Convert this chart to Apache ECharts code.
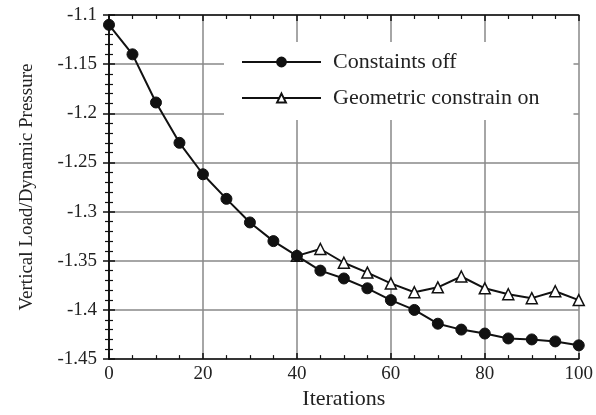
<!DOCTYPE html>
<html>
<head>
<meta charset="utf-8">
<script src="https://cdn.jsdelivr.net/npm/echarts@6/dist/echarts.min.js"></script>
<style>
html,body{margin:0;padding:0;background:#fff;}
#chart{width:596px;height:415px;}
</style>
</head>
<body>
<div id="chart"></div>
<script>
const iterations = [0,5,10,15,20,25,30,35,40,45,50,55,60,65,70,75,80,85,90,95,100];
const constraintsOff = [-1.110,-1.140,-1.189,-1.230,-1.262,-1.287,-1.311,-1.330,-1.345,-1.360,-1.368,-1.378,-1.390,-1.400,-1.414,-1.420,-1.424,-1.429,-1.430,-1.432,-1.436];
const geometricOn = [null,null,null,null,null,null,null,null,-1.345,-1.338,-1.352,-1.362,-1.373,-1.382,-1.377,-1.366,-1.378,-1.384,-1.388,-1.381,-1.390];
const seriesNames = ['Constaints off','Geometric constrain on'];
const xTitle = 'Iterations';
const yTitle = 'Vertical Load/Dynamic Pressure';

const font = 'Liberation Serif';
function pairs(vals){ return iterations.map((x,i)=>[x, vals[i]]); }

const chart = echarts.init(document.getElementById('chart'), null, {renderer:'canvas'});
const axisLine = {show:true, lineStyle:{color:'#111', width:1.5}};
const axisTick = {show:true, inside:true, length:6, lineStyle:{color:'#111', width:1.5}};
const xMinor = {show:true, splitNumber:4, length:4, lineStyle:{color:'#111', width:1.2}};
const yMinor = {show:true, splitNumber:5, length:4, lineStyle:{color:'#111', width:1.2}};
chart.setOption({
  animation:false,
  backgroundColor:'#fff',
  grid:{left:109, right:16, top:15, bottom:48},
  legend:{
    orient:'vertical', left:224, top:42,
    padding:[9,34,11,17],
    backgroundColor:'#fff',
    itemWidth:79, itemHeight:11, itemGap:14,
    textStyle:{fontFamily:font, fontSize:22, color:'#222', lineHeight:22, padding:[0,0,0,7]},
    data:seriesNames
  },
  xAxis:[
    {
      type:'value', min:0, max:100, interval:20,
      axisLine:axisLine, axisTick:axisTick, minorTick:xMinor,
      splitLine:{show:true, lineStyle:{color:'#888', width:1.5}},
      axisLabel:{fontFamily:font, fontSize:19, color:'#222', margin:5},
      name:xTitle, nameLocation:'middle', nameGap:27,
      nameTextStyle:{fontFamily:font, fontSize:22, color:'#222'}
    },
    {
      type:'value', position:'top', min:0, max:100, interval:20, z:10,
      axisLine:axisLine, axisTick:axisTick, minorTick:xMinor,
      axisLabel:{show:false}, splitLine:{show:false}
    }
  ],
  yAxis:[
    {
      type:'value', min:-1.45, max:-1.1, interval:0.05,
      axisLine:axisLine, axisTick:axisTick, minorTick:yMinor,
      splitLine:{show:true, lineStyle:{color:'#888', width:1.5}},
      axisLabel:{fontFamily:font, fontSize:19, color:'#222', margin:12},
      name:yTitle, nameLocation:'middle', nameGap:72, nameRotate:90,
      nameTextStyle:{fontFamily:font, fontSize:19, color:'#222'}
    },
    {
      type:'value', position:'right', min:-1.45, max:-1.1, interval:0.05, z:10,
      axisLine:axisLine, axisTick:axisTick, minorTick:yMinor,
      axisLabel:{show:false}, splitLine:{show:false}
    }
  ],
  series:[
    {
      name:seriesNames[1], type:'line', data:pairs(geometricOn),
      symbol:'triangle', symbolSize:11, showAllSymbol:true,
      lineStyle:{color:'#111', width:2},
      itemStyle:{color:'#fff', borderColor:'#111', borderWidth:1.5},
      z:3
    },
    {
      name:seriesNames[0], type:'line', data:pairs(constraintsOff),
      symbol:'circle', symbolSize:11, showAllSymbol:true,
      lineStyle:{color:'#111', width:2},
      itemStyle:{color:'#111', borderColor:'#111', borderWidth:1},
      z:4
    }
  ]
});
</script>
</body>
</html>
